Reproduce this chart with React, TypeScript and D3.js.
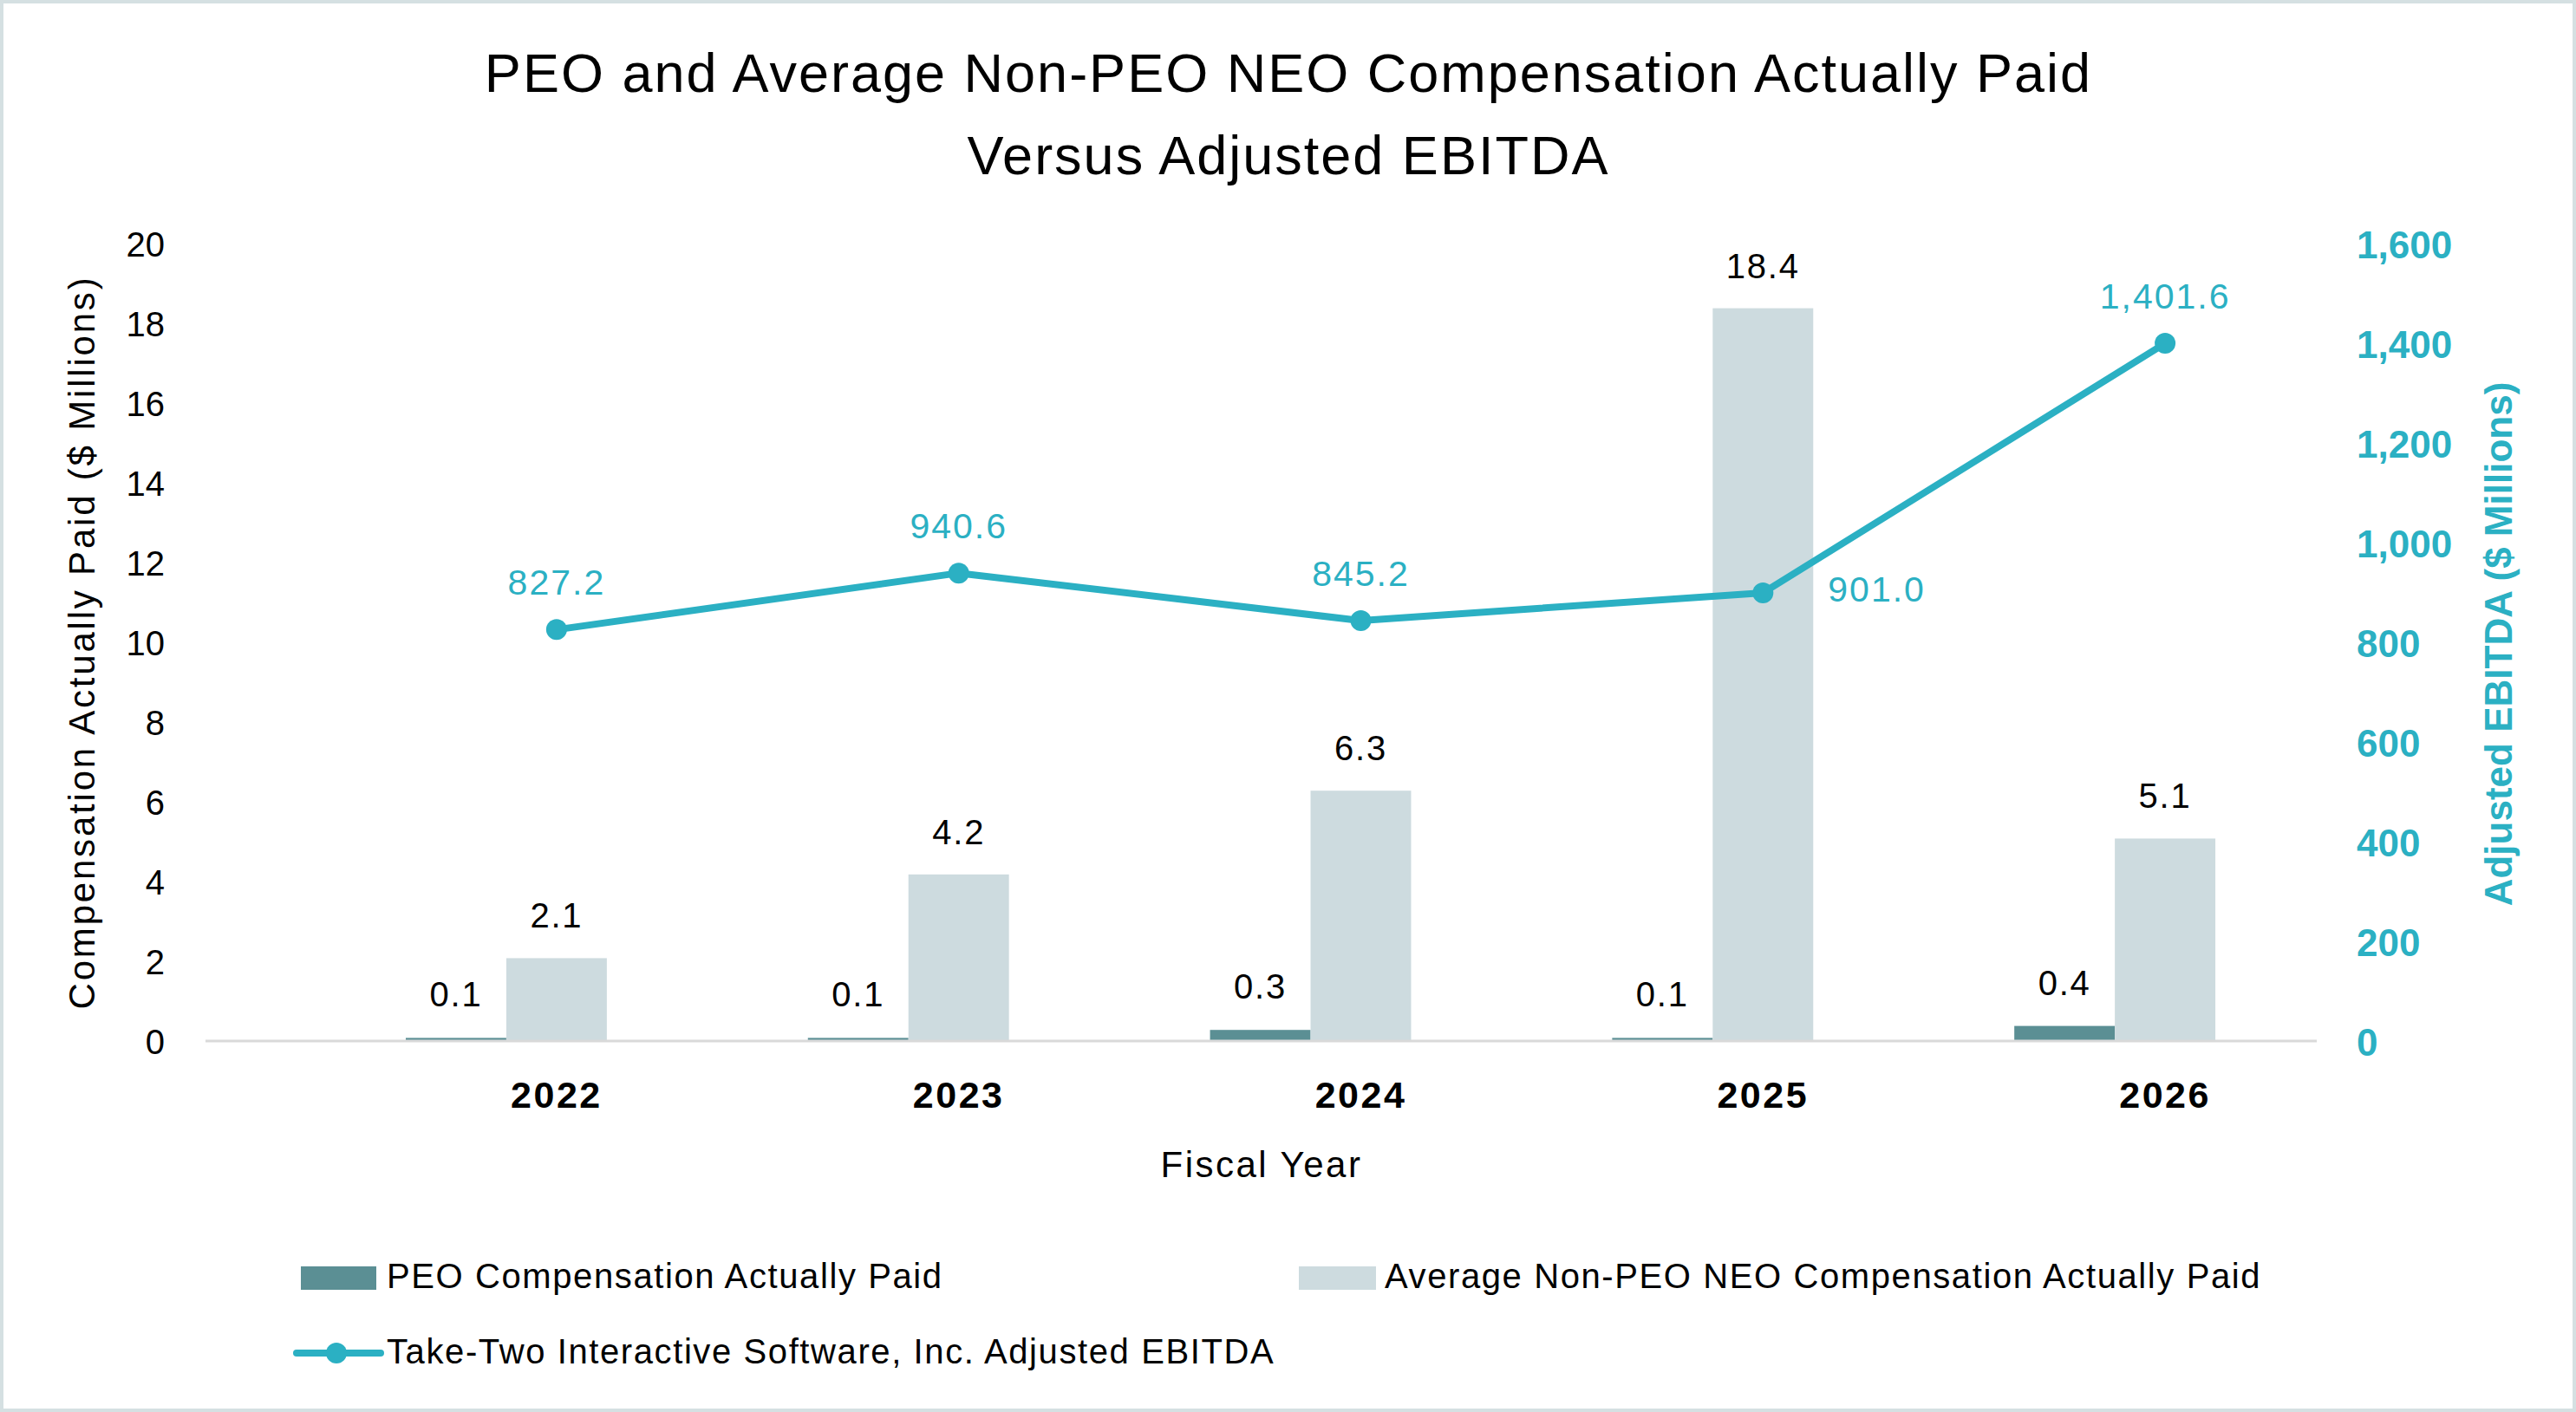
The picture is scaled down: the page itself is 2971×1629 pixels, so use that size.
import React, { useEffect } from "react";
import * as d3 from "d3";

const years = ["2022", "2023", "2024", "2025", "2026"];
const peoCap = [0.1, 0.1, 0.3, 0.1, 0.4];
const neoCap = [2.1, 4.2, 6.3, 18.4, 5.1];
const ebitda = [827.2, 940.6, 845.2, 901.0, 1401.6];
const ebitdaLabelPos = ["above", "above", "above", "right", "above"];
const leftTicks = [0, 2, 4, 6, 8, 10, 12, 14, 16, 18, 20];
const rightTicks = [0, 200, 400, 600, 800, 1000, 1200, 1400, 1600];
const seriesKeys = ["peo", "neo", "ebitda"];

const W = 2971;
const H = 1629;
const FONT = "'Liberation Sans', Arial, Helvetica, sans-serif";
const C_PEO = "#5b8f94";
const C_NEO = "#cddbdf";
const C_LINE = "#2bb0c3";

export default function App() {
  useEffect(() => {
    document.body.style.margin = "0";
  }, []);

  const x0 = d3.scaleBand<string>().domain(years).range([410, 2729]).paddingInner(0.25).paddingOuter(0.125);
  const x1 = d3.scaleBand<string>().domain(seriesKeys).range([0, x0.bandwidth()]);
  const yL = d3.scaleLinear().domain([0, 20]).range([1202, 282]);
  const yR = d3.scaleLinear().domain([0, 1600]).range([1202, 282]);
  const cx = (i: number) => (x0(years[i]) as number) + (x1("neo") as number) + x1.bandwidth() / 2;
  const fmtR = d3.format(",");
  const fmtE = d3.format(",.1f");
  const fmtB = d3.format(".1f");

  const linePath = d3
    .line<number>()
    .x((_, i) => cx(i))
    .y((d) => yR(d))(ebitda) as string;

  return (
    <svg width={W} height={H} viewBox={`0 0 ${W} ${H}`} style={{ display: "block", position: "absolute", left: 0, top: 0 }} fontFamily={FONT}>
      <rect x={0} y={0} width={W} height={H} fill="#ffffff" />
      <rect x={2} y={2} width={W - 4} height={H - 4} fill="none" stroke="#d5e0e2" strokeWidth={4} />

      {/* Title */}
      <text x={1486} y={106} textAnchor="middle" fontSize={63} letterSpacing={2} fill="#000">
        PEO and Average Non-PEO NEO Compensation Actually Paid
      </text>
      <text x={1486} y={201} textAnchor="middle" fontSize={63} letterSpacing={2} fill="#000">
        Versus Adjusted EBITDA
      </text>

      {/* Left axis ticks */}
      {leftTicks.map((t) => (
        <text key={"l" + t} x={190} y={yL(t)} dy="0.36em" textAnchor="end" fontSize={40} fill="#000">
          {t}
        </text>
      ))}
      {/* Right axis ticks */}
      {rightTicks.map((t) => (
        <text key={"r" + t} x={2718} y={yR(t)} dy="0.36em" textAnchor="start" fontSize={44} fontWeight="bold" fill={C_LINE}>
          {fmtR(t)}
        </text>
      ))}

      {/* Axis titles */}
      <text transform="translate(109,741) rotate(-90)" textAnchor="middle" fontSize={42} letterSpacing={2.8} fill="#000">
        Compensation Actually Paid ($ Millions)
      </text>
      <text transform="translate(2897,743) rotate(-90)" textAnchor="middle" fontSize={44} fontWeight="bold" fill={C_LINE}>
        Adjusted EBITDA ($ Millions)
      </text>

      {/* Bars */}
      {years.map((yr, i) => {
        const bx = x0(yr) as number;
        const pX = bx + (x1("peo") as number);
        const nX = bx + (x1("neo") as number);
        const bw = x1.bandwidth();
        return (
          <g key={"b" + yr}>
            <rect x={pX} y={yL(peoCap[i])} width={bw} height={yL(0) - yL(peoCap[i])} fill={C_PEO} />
            <rect x={nX} y={yL(neoCap[i])} width={bw} height={yL(0) - yL(neoCap[i])} fill={C_NEO} />
            <text x={pX + bw / 2} y={yL(peoCap[i]) - 36} textAnchor="middle" fontSize={40} letterSpacing={1.8} fill="#000">
              {fmtB(peoCap[i])}
            </text>
            <text x={nX + bw / 2} y={yL(neoCap[i]) - 35} textAnchor="middle" fontSize={40} letterSpacing={1.8} fill="#000">
              {fmtB(neoCap[i])}
            </text>
          </g>
        );
      })}

      {/* Baseline */}
      <line x1={237} x2={2672} y1={1201} y2={1201} stroke="#d9d9d9" strokeWidth={3} />

      {/* Category labels */}
      {years.map((yr, i) => (
        <text key={"c" + yr} x={cx(i)} y={1278} textAnchor="middle" fontSize={43} fontWeight="bold" letterSpacing={2.5} fill="#000">
          {yr}
        </text>
      ))}

      <text x={1455} y={1358} textAnchor="middle" fontSize={42} letterSpacing={2.5} fill="#000">
        Fiscal Year
      </text>

      {/* EBITDA line */}
      <path d={linePath} fill="none" stroke={C_LINE} strokeWidth={8} strokeLinejoin="round" />
      {ebitda.map((v, i) => (
        <circle key={"m" + i} cx={cx(i)} cy={yR(v)} r={12} fill={C_LINE} />
      ))}
      {ebitda.map((v, i) =>
        ebitdaLabelPos[i] === "right" ? (
          <text key={"e" + i} x={cx(i) + 75} y={yR(v) + 10} textAnchor="start" fontSize={41} letterSpacing={2} fill={C_LINE}>
            {fmtE(v)}
          </text>
        ) : (
          <text key={"e" + i} x={cx(i)} y={yR(v) - 40} textAnchor="middle" fontSize={41} letterSpacing={2} fill={C_LINE}>
            {fmtE(v)}
          </text>
        )
      )}

      {/* Legend */}
      <rect x={347} y={1461} width={87} height={27} fill={C_PEO} />
      <text x={446} y={1486} fontSize={40} letterSpacing={1.6} fill="#000">
        PEO Compensation Actually Paid
      </text>
      <rect x={1498} y={1461} width={89} height={27} fill={C_NEO} />
      <text x={1597} y={1486} fontSize={40} letterSpacing={1.6} fill="#000">
        Average Non-PEO NEO Compensation Actually Paid
      </text>
      <line x1={342} x2={439} y1={1561} y2={1561} stroke={C_LINE} strokeWidth={8} strokeLinecap="round" />
      <circle cx={388} cy={1561} r={12} fill={C_LINE} />
      <text x={446} y={1573} fontSize={40} letterSpacing={1.6} fill="#000">
        Take-Two Interactive Software, Inc. Adjusted EBITDA
      </text>
    </svg>
  );
}
